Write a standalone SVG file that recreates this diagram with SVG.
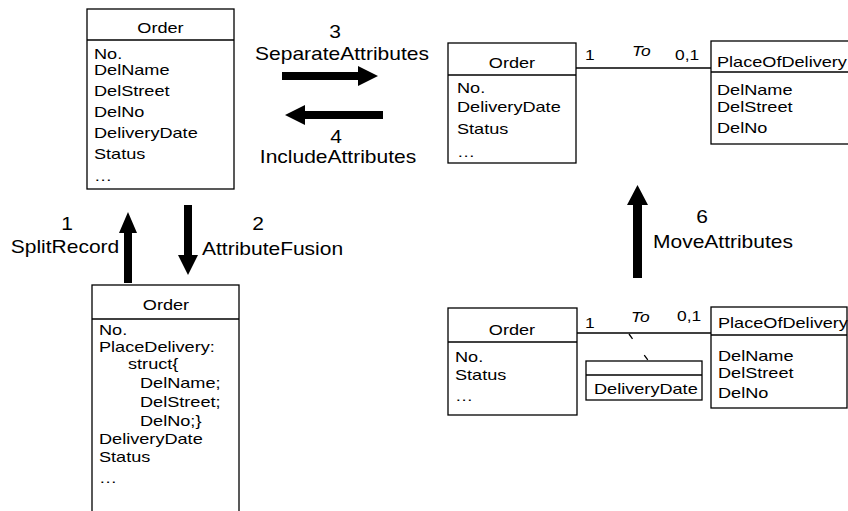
<svg xmlns="http://www.w3.org/2000/svg" width="848" height="511" viewBox="0 0 848 511">
  <style>
    .box { fill: #fff; stroke: #000; stroke-width: 1.3; }
    .sep { stroke: #000; stroke-width: 1.3; fill: none; }
    .t { font-family: "Liberation Sans", Arial, sans-serif; font-size: 14.5px; fill: #000; }
    .m { text-anchor: middle; }
    .i { font-style: italic; }
    .lbl { font-family: "Liberation Sans", Arial, sans-serif; font-size: 17.5px; fill: #000; }
    .arrow { fill: #000; stroke: none; }
    .assoc { stroke: #000; stroke-width: 1.3; fill: none; }
    .dash { stroke: #000; stroke-width: 1.3; fill: none; stroke-dasharray: 6 20; }
  </style>

  <!-- Order with flat attributes -->
  <g id="order-flat">
    <rect class="box" x="87" y="9" width="147" height="180"/>
    <line class="sep" x1="87" y1="40" x2="234" y2="40"/>
    <text class="t m" transform="translate(160.5,33) scale(1.25,1)">Order</text>
    <text class="t" transform="translate(94,59) scale(1.25,1)">No.</text>
    <text class="t" transform="translate(94,75) scale(1.25,1)">DelName</text>
    <text class="t" transform="translate(94,96) scale(1.25,1)">DelStreet</text>
    <text class="t" transform="translate(94,117) scale(1.25,1)">DelNo</text>
    <text class="t" transform="translate(94,138) scale(1.25,1)">DeliveryDate</text>
    <text class="t" transform="translate(94,159) scale(1.25,1)">Status</text>
    <text class="t" transform="translate(94,181) scale(1.25,1)">…</text>
  </g>

  <!-- Order with struct attribute -->
  <g id="order-struct">
    <rect class="box" x="92" y="285" width="147" height="240"/>
    <line class="sep" x1="92" y1="319" x2="239" y2="319"/>
    <text class="t m" transform="translate(166,310) scale(1.25,1)">Order</text>
    <text class="t" transform="translate(99,335) scale(1.25,1)">No.</text>
    <text class="t" transform="translate(99,352) scale(1.25,1)">PlaceDelivery:</text>
    <text class="t" transform="translate(128,369) scale(1.25,1)">struct{</text>
    <text class="t" transform="translate(140,388) scale(1.25,1)">DelName;</text>
    <text class="t" transform="translate(140,407) scale(1.25,1)">DelStreet;</text>
    <text class="t" transform="translate(140,426) scale(1.25,1)">DelNo;}</text>
    <text class="t" transform="translate(99,444) scale(1.25,1)">DeliveryDate</text>
    <text class="t" transform="translate(99,462) scale(1.25,1)">Status</text>
    <text class="t" transform="translate(99,483) scale(1.25,1)">…</text>
  </g>

  <!-- Order after separating attributes -->
  <g id="order-separated">
    <rect class="box" x="448" y="43" width="128" height="120"/>
    <line class="sep" x1="448" y1="75" x2="576" y2="75"/>
    <text class="t m" transform="translate(512,68) scale(1.25,1)">Order</text>
    <text class="t" transform="translate(457,93) scale(1.25,1)">No.</text>
    <text class="t" transform="translate(457,112) scale(1.25,1)">DeliveryDate</text>
    <text class="t" transform="translate(457,134) scale(1.25,1)">Status</text>
    <text class="t" transform="translate(457,157) scale(1.25,1)">…</text>
  </g>

  <g id="place-separated">
    <rect class="box" x="711" y="41" width="145" height="103"/>
    <line class="sep" x1="711" y1="72" x2="856" y2="72"/>
    <text class="t" transform="translate(717,67) scale(1.25,1)">PlaceOfDelivery</text>
    <text class="t" transform="translate(717,95) scale(1.25,1)">DelName</text>
    <text class="t" transform="translate(717,112) scale(1.25,1)">DelStreet</text>
    <text class="t" transform="translate(717,133) scale(1.25,1)">DelNo</text>
  </g>

  <!-- Order after moving attributes -->
  <g id="order-moved">
    <rect class="box" x="448" y="308" width="129" height="107"/>
    <line class="sep" x1="448" y1="342" x2="577" y2="342"/>
    <text class="t m" transform="translate(512,335) scale(1.25,1)">Order</text>
    <text class="t" transform="translate(455,362) scale(1.25,1)">No.</text>
    <text class="t" transform="translate(455,380) scale(1.25,1)">Status</text>
    <text class="t" transform="translate(455,401) scale(1.25,1)">…</text>
  </g>

  <g id="place-moved">
    <rect class="box" x="711" y="307" width="136" height="101"/>
    <line class="sep" x1="711" y1="335" x2="847" y2="335"/>
    <text class="t" transform="translate(718,328) scale(1.25,1)">PlaceOfDelivery</text>
    <text class="t" transform="translate(718,361) scale(1.25,1)">DelName</text>
    <text class="t" transform="translate(718,378) scale(1.25,1)">DelStreet</text>
    <text class="t" transform="translate(718,398) scale(1.25,1)">DelNo</text>
  </g>

  <g id="link-attribute">
    <rect class="box" x="586" y="361" width="116" height="39"/>
    <line class="sep" x1="586" y1="375" x2="702" y2="375"/>
    <text class="t" transform="translate(594,394) scale(1.25,1)">DeliveryDate</text>
  </g>

  <!-- associations and transformation arrows -->
  <g id="connectors">
    <line class="assoc" x1="576" y1="68" x2="711" y2="68"/>
    <text class="t" transform="translate(585,60) scale(1.2,1)">1</text>
    <text class="t i" transform="translate(632,56) scale(1.2,1)">To</text>
    <text class="t" transform="translate(675,60) scale(1.2,1)">0,1</text>

    <line class="assoc" x1="577" y1="333" x2="711" y2="333"/>
    <line class="dash" x1="629" y1="334" x2="650" y2="363"/>
    <text class="t" transform="translate(585,328) scale(1.2,1)">1</text>
    <text class="t i" transform="translate(631,322) scale(1.2,1)">To</text>
    <text class="t" transform="translate(677,321) scale(1.2,1)">0,1</text>

    <!-- 1 SplitRecord (up) -->
    <polygon class="arrow" points="124,283 124,233 119,233 128,212 137,233 132,233 132,283"/>
    <text class="lbl m" transform="translate(67,230) scale(1.2,1)">1</text>
    <text class="lbl m" transform="translate(65,253) scale(1.2,1)">SplitRecord</text>

    <!-- 2 AttributeFusion (down) -->
    <polygon class="arrow" points="184,205 192,205 192,255 198,255 188,275 178,255 184,255"/>
    <text class="lbl m" transform="translate(258,230) scale(1.2,1)">2</text>
    <text class="lbl" transform="translate(202,255) scale(1.2,1)">AttributeFusion</text>

    <!-- 3 SeparateAttributes (right) -->
    <polygon class="arrow" points="282,72 358,72 358,66 378,76 358,86 358,80 282,80"/>
    <text class="lbl m" transform="translate(335,38) scale(1.2,1)">3</text>
    <text class="lbl m" transform="translate(342,60) scale(1.2,1)">SeparateAttributes</text>

    <!-- 4 IncludeAttributes (left) -->
    <polygon class="arrow" points="383,111 305,111 305,105 285,115 305,125 305,119 383,119"/>
    <text class="lbl m" transform="translate(336,143) scale(1.2,1)">4</text>
    <text class="lbl m" transform="translate(338,163) scale(1.2,1)">IncludeAttributes</text>

    <!-- 6 MoveAttributes (up) -->
    <polygon class="arrow" points="633,278 633,205 627,205 637.5,185 648,205 642,205 642,278"/>
    <text class="lbl m" transform="translate(702,223) scale(1.2,1)">6</text>
    <text class="lbl" transform="translate(653,248) scale(1.2,1)">MoveAttributes</text>
  </g>
</svg>
